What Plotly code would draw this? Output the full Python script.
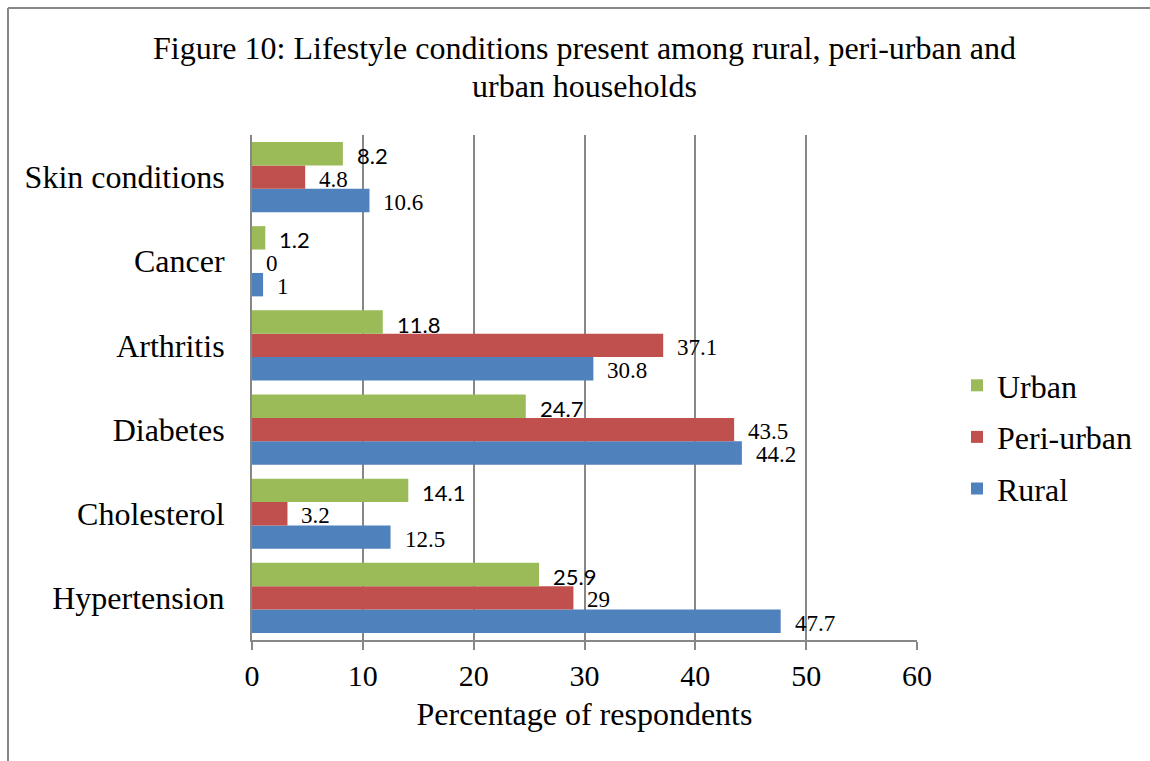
import plotly.graph_objects as go

# Conditions, listed bottom to top on the category axis
conditions = ["Hypertension", "Cholesterol", "Diabetes", "Arthritis", "Cancer", "Skin conditions"]

# Percentage of respondents per household type
rural = [47.7, 12.5, 44.2, 30.8, 1, 10.6]
peri_urban = [29, 3.2, 43.5, 37.1, 0, 4.8]
urban = [25.9, 14.1, 24.7, 11.8, 1.2, 8.2]

# (name, values, colour, legend rank)
series = [
    ("Rural", rural, "#4F81BD", 3),
    ("Peri-urban", peri_urban, "#C0504D", 2),
    ("Urban", urban, "#9BBB59", 1),
]

title_lines = [
    "Figure 10: Lifestyle conditions present among rural, peri-urban and",
    "urban households",
]

SERIF = "Liberation Serif"
SANS = "Lato"
GRID = "#878787"

W, H = 1150, 761
M_L, M_R, M_T, M_B = 252, 233, 135, 121
BARGAP = 0.166
PLOT_W = W - M_L - M_R
PLOT_H = H - M_T - M_B


def px_x(px):
    """Horizontal page pixel -> paper coordinate."""
    return (px - M_L) / PLOT_W


def px_y(px):
    """Vertical page pixel (from top) -> paper coordinate."""
    return (H - M_B - px) / PLOT_H


fig = go.Figure()
for name, vals, color, rank in series:
    fig.add_trace(go.Bar(
        y=conditions, x=vals, name=name, orientation="h",
        marker=dict(color=color, line=dict(width=0)),
        legendgroup=name, legendrank=rank,
    ))

# Value labels placed just beyond each bar end
band = PLOT_H / len(conditions)
bar_h = band * (1 - BARGAP) / len(series)
for k, (name, vals, color, rank) in enumerate(series):
    offset = (k - (len(series) - 1) / 2) * bar_h
    fam = SANS if name == "Urban" else SERIF
    size = 22 if name == "Urban" else 23
    for cat, v in zip(conditions, vals):
        fig.add_annotation(
            x=v, y=cat, xref="x", yref="y",
            text=f"{v:g}", showarrow=False,
            xanchor="left", yanchor="middle",
            xshift=12, yshift=offset - 2,
            font=dict(family=fam, size=size, color="#000000"),
        )

# Chart title, two centred lines above the plot
for line, ypx in zip(title_lines, [48, 86]):
    fig.add_annotation(
        x=0.5, y=px_y(ypx), xref="paper", yref="paper",
        text=line, showarrow=False,
        xanchor="center", yanchor="middle",
        font=dict(family=SERIF, size=32, color="#000000"),
    )

# Outer frame lines (top and left edges)
fig.add_shape(type="line", xref="paper", yref="paper",
              x0=px_x(8), x1=px_x(W), y0=px_y(8), y1=px_y(8),
              line=dict(color=GRID, width=2))
fig.add_shape(type="line", xref="paper", yref="paper",
              x0=px_x(8), x1=px_x(8), y0=px_y(8), y1=px_y(H),
              line=dict(color=GRID, width=2))

fig.update_layout(
    width=W, height=H,
    margin=dict(l=M_L, r=M_R, t=M_T, b=M_B, autoexpand=False),
    paper_bgcolor="white", plot_bgcolor="white",
    barmode="group", bargap=BARGAP, bargroupgap=0,
    font=dict(family=SERIF, size=32, color="#000000"),
    xaxis=dict(
        range=[0, 60], dtick=10, tick0=0,
        showgrid=True, gridcolor=GRID, gridwidth=2,
        showline=True, linecolor=GRID, linewidth=2,
        ticks="outside", ticklen=8, tickwidth=2, tickcolor=GRID,
        ticklabelstandoff=0,
        zeroline=False, fixedrange=True,
        tickfont=dict(family=SERIF, size=30),
        title=dict(text="Percentage of respondents", standoff=12,
                   font=dict(family=SERIF, size=32)),
    ),
    yaxis=dict(
        type="category", categoryorder="array", categoryarray=conditions,
        showgrid=False, showline=True, linecolor=GRID, linewidth=2,
        ticks="", ticklabelstandoff=19, zeroline=False, fixedrange=True,
        tickfont=dict(family=SERIF, size=32),
    ),
    legend=dict(
        x=px_x(957), xanchor="left",
        y=px_y(437), yanchor="middle",
        traceorder="grouped", tracegroupgap=7,
        font=dict(family=SERIF, size=32),
        bgcolor="rgba(0,0,0,0)",
    ),
    showlegend=True,
)

fig.write_html("out.html")
